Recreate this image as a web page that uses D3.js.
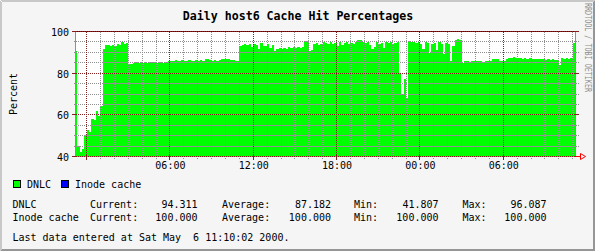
<!DOCTYPE html>
<html>
<head>
<meta charset="utf-8">
<script src="https://cdn.jsdelivr.net/npm/d3@7"></script>
<style>
  body { margin: 0; background: #f5f5f5; }
  svg text { font-family: "DejaVu Sans Mono", monospace; white-space: pre; }
  svg line, svg rect { shape-rendering: crispEdges; }
</style>
</head>
<body>
<div id="chart"></div>
<script>
// time range of the graph, 10 minute steps
var startTime = new Date(2000, 4, 4, 23, 10);
var endTime = new Date(2000, 4, 6, 11, 10);
var stepMinutes = 10;

// DNLC hit percentage, one value per 10 minutes
var dnlc = [
  90.5, 45.0, 42.0, 43.5, 50.0, 52.5, 51.5, 58.0, 57.2, 61.5, 59.0, 64.0,
  91.5, 93.2, 93.5, 93.0, 93.5, 92.8, 94.0, 93.5, 94.5, 93.8, 94.3, 84.0,
  84.2, 84.7, 85.0, 84.8, 84.9, 84.6, 85.1, 84.8, 85.0, 85.2, 84.9, 84.7,
  85.0, 85.3, 84.8, 85.1, 85.7, 85.8, 85.6, 85.9, 85.8, 85.7, 86.0, 85.8,
  85.6, 85.9, 85.8, 85.7, 86.0, 85.8, 85.9, 85.8, 86.4, 86.5, 86.3, 85.6,
  85.9, 85.7, 86.3, 86.5, 86.6, 86.4, 86.5, 86.3, 86.2, 85.8, 85.5, 93.0,
  93.5, 94.0, 93.2, 93.8, 92.5, 94.0, 93.5, 91.5, 94.2, 93.0, 92.8, 94.0,
  92.0, 93.5, 90.3, 91.5, 92.0, 91.2, 92.0, 91.5, 92.5, 92.0, 92.3, 92.0,
  92.2, 91.8, 92.5, 95.0, 95.2, 90.5, 90.8, 93.8, 94.2, 93.5, 94.0, 94.5,
  94.3, 93.8, 94.5, 94.0, 94.3, 92.8, 94.5, 93.5, 94.2, 94.6, 93.8, 94.3,
  94.0, 94.5, 95.9, 95.5, 94.8, 94.2, 94.5, 93.5, 91.6, 92.5, 94.6, 94.0,
  94.3, 92.0, 94.5, 94.2, 94.6, 94.0, 94.3, 94.5, 80.0, 70.0, 77.0, 68.0,
  95.0, 94.5, 94.8, 94.2, 94.6, 94.0, 91.6, 94.5, 94.2, 89.4, 94.0, 94.3,
  91.0, 94.5, 94.0, 89.0, 94.2, 94.0, 85.5, 93.0, 95.5, 96.1, 95.5, 84.6,
  85.4, 85.5, 85.3, 85.6, 85.5, 85.4, 85.6, 85.5, 85.3, 85.5, 85.6, 85.4,
  86.8, 86.7, 86.8, 85.6, 85.5, 85.7, 86.5, 87.2, 87.0, 87.3, 87.1, 87.0,
  87.2, 86.8, 87.0, 86.6, 86.9, 86.7, 86.5, 86.8, 86.6, 86.4, 86.5, 86.3,
  86.5, 86.2, 86.4, 86.0, 86.3, 83.8, 87.0, 86.8, 87.0, 86.5, 87.2, 94.3
];
// Inode cache hit percentage (flat)
var inode = [100, 100];

var yMajor = [40, 60, 80, 100];
var yMinor = [45, 50, 55, 65, 70, 75, 85, 90, 95];
var xLabels = ["06:00", "12:00", "18:00", "00:00", "06:00"];

var legendNames = ["DNLC", "Inode cache"];
var legendColors = ["#00ff00", "#0000ff"];
var statCurrent = ["94.311", "100.000"];
var statAverage = ["87.182", "100.000"];
var statMin = ["41.807", "100.000"];
var statMax = ["96.087", "100.000"];

var W = 595, H = 251;
var svg = d3.select("#chart").append("svg")
    .attr("width", W)
    .attr("height", H);

var x = d3.scaleTime().domain([startTime, endTime]).range([75, 575]);
var y = d3.scaleLinear().domain([40, 100]).range([156.5, 31.5]);
var pix = function(v){ return Math.floor(v); };

// dotted patterns for the grid (1 on, 1 off)
var defs = svg.append("defs");
function dotPattern(id, color, horiz){
  var p = defs.append("pattern").attr("id", id).attr("patternUnits", "userSpaceOnUse")
      .attr("width", horiz ? 2 : 1).attr("height", horiz ? 1 : 2);
  p.append("rect").attr("width", 1).attr("height", 1).attr("fill", color);
}
dotPattern("minorH", "#8f8f8f", true);
dotPattern("minorV", "#8f8f8f", false);
dotPattern("majorH", "#821e1e", true);
dotPattern("majorV", "#821e1e", false);

// background + 3d border
svg.append("rect").attr("width", W).attr("height", H).attr("fill", "#f5f5f5");
var shade = [[0.5, 0.5, W - 0.5, 0.5, "#c8c8c8"], [1.5, 1.5, W - 1.5, 1.5, "#c8c8c8"],
             [0.5, 0.5, 0.5, H - 0.5, "#c8c8c8"], [1.5, 1.5, 1.5, H - 1.5, "#c8c8c8"],
             [W - 0.5, 0.5, W - 0.5, H - 0.5, "#969696"], [W - 1.5, 1.5, W - 1.5, H - 1.5, "#969696"],
             [0.5, H - 0.5, W - 0.5, H - 0.5, "#969696"], [1.5, H - 1.5, W - 1.5, H - 1.5, "#969696"]];
svg.selectAll(".shade").data(shade).enter().append("line")
    .attr("class", "shade")
    .attr("x1", function(d){return d[0];}).attr("y1", function(d){return d[1];})
    .attr("x2", function(d){return d[2];}).attr("y2", function(d){return d[3];})
    .attr("stroke", function(d){return d[4];});

// canvas
svg.append("rect").attr("x", 75).attr("y", 31).attr("width", 501).attr("height", 126).attr("fill", "#ffffff");

// DNLC area (stepped, like rrdtool columns)
var pts = dnlc.map(function(v, i){ return {t: new Date(startTime.getTime() + i * stepMinutes * 60000), v: v}; });
pts.push({t: endTime, v: dnlc[dnlc.length - 1]});
var area = d3.area()
    .curve(d3.curveStepAfter)
    .x(function(d){ return Math.round(x(d.t)); })
    .y0(157)
    .y1(function(d){ return Math.round(y(d.v) - 0.5); });
svg.append("path").datum(pts).attr("d", area).attr("fill", "#00ff00")
    .attr("shape-rendering", "crispEdges");

// grid
var hours = x.ticks(d3.timeHour.every(1));
var majorHours = hours.filter(function(d){ return d.getHours() % 6 === 0; });
var minorHours = hours.filter(function(d){ return d.getHours() % 6 !== 0; });

svg.selectAll(".vminor").data(minorHours).enter().append("rect")
    .attr("class", "vminor")
    .attr("x", function(d){return pix(x(d));}).attr("width", 1)
    .attr("y", 31).attr("height", 128)
    .attr("fill", "url(#minorV)");
svg.selectAll(".hminor").data(yMinor).enter().append("rect")
    .attr("class", "hminor")
    .attr("x", 73).attr("width", 506)
    .attr("y", function(d){return pix(y(d));}).attr("height", 1)
    .attr("fill", "url(#minorH)");

// frame
svg.append("line").attr("x1", 75.5).attr("x2", 75.5).attr("y1", 31).attr("y2", 157).attr("stroke", "#8f8f8f");
svg.append("line").attr("x1", 575.5).attr("x2", 575.5).attr("y1", 31).attr("y2", 157).attr("stroke", "#8f8f8f");
svg.append("line").attr("x1", 72).attr("x2", 580).attr("y1", 156.5).attr("y2", 156.5).attr("stroke", "#8f8f8f");

// inode cache line
svg.append("line")
    .attr("x1", x(startTime)).attr("x2", x(endTime) + 1)
    .attr("y1", pix(y(inode[0])) + 0.5).attr("y2", pix(y(inode[1])) + 0.5)
    .attr("stroke", "#0000ff");

// major grid
svg.selectAll(".vmajor").data(majorHours).enter().append("rect")
    .attr("class", "vmajor")
    .attr("x", function(d){return pix(x(d));}).attr("width", 1)
    .attr("y", 31).attr("height", 126)
    .attr("fill", "url(#majorV)");
svg.selectAll(".hmajor").data(yMajor).enter().append("rect")
    .attr("class", "hmajor")
    .attr("x", 76).attr("width", 499)
    .attr("y", function(d){return pix(y(d));}).attr("height", 1)
    .attr("fill", "url(#majorH)");
svg.selectAll(".htick").data(yMajor).enter().append("rect")
    .attr("class", "htick")
    .attr("x", 72).attr("width", 4)
    .attr("y", function(d){return pix(y(d));}).attr("height", 1)
    .attr("fill", "#821e1e");
svg.selectAll(".htickr").data(yMajor).enter().append("rect")
    .attr("class", "htickr")
    .attr("x", 575).attr("width", 4)
    .attr("y", function(d){return pix(y(d));}).attr("height", 1)
    .attr("fill", "#821e1e");
svg.selectAll(".vtick").data(majorHours).enter().append("rect")
    .attr("class", "vtick")
    .attr("x", function(d){return pix(x(d));}).attr("width", 1)
    .attr("y", 155).attr("height", 5)
    .attr("fill", "#821e1e");

// arrow
svg.append("path")
    .attr("d", "M576,156.5H580.5M580.5,153.5V159.5L585.5,156.5Z")
    .attr("fill", "none").attr("stroke", "#ff0000");

// y labels
svg.selectAll(".ylab").data(yMajor).enter().append("text")
    .attr("class", "ylab")
    .attr("x", 69).attr("y", function(d){return y(d) + 4.5;})
    .attr("text-anchor", "end").attr("font-size", 10)
    .text(function(d){return d;});

// x labels (skip the first major line)
svg.selectAll(".xlab").data(majorHours.slice(1)).enter().append("text")
    .attr("class", "xlab")
    .attr("x", function(d){return x(d) + 0.5;}).attr("y", 168.5)
    .attr("text-anchor", "middle").attr("font-size", 10)
    .text(function(d, i){return xLabels[i];});

// title
svg.append("text").attr("x", 298).attr("y", 19.5)
    .attr("text-anchor", "middle").attr("font-size", 11.6).attr("font-weight", "bold")
    .text("Daily host6 Cache Hit Percentages");

// y axis title
svg.append("text")
    .attr("transform", "translate(16.5,94) rotate(-90)")
    .attr("text-anchor", "middle").attr("font-size", 10)
    .text("Percent");

// side credit
svg.append("text")
    .attr("transform", "translate(585,3) rotate(90)")
    .attr("font-size", 8.5).attr("fill", "#8c8c8c")
    .attr("textLength", 89).attr("lengthAdjust", "spacingAndGlyphs")
    .text("RRDTOOL / TOBI OETIKER");

// legend
var legX = [13, 61];
legendNames.forEach(function(n, i){
  svg.append("rect").attr("x", legX[i]).attr("y", 180).attr("width", 8).attr("height", 8)
      .attr("fill", "#000000");
  svg.append("rect").attr("x", legX[i] + 1).attr("y", 181).attr("width", 6).attr("height", 6)
      .attr("fill", legendColors[i]);
  svg.append("text").attr("x", legX[i] + 14).attr("y", 187.5).attr("font-size", 10).text(n);
});

// stats
var rowY = [208, 220.5];
legendNames.forEach(function(n, i){
  var g = svg.append("g").attr("font-size", 10);
  g.append("text").attr("x", 12.5).attr("y", rowY[i]).text(n);
  g.append("text").attr("x", 90).attr("y", rowY[i]).text("Current:");
  g.append("text").attr("x", 197.5).attr("y", rowY[i]).attr("text-anchor", "end").text(statCurrent[i]);
  g.append("text").attr("x", 222).attr("y", rowY[i]).text("Average:");
  g.append("text").attr("x", 331).attr("y", rowY[i]).attr("text-anchor", "end").text(statAverage[i]);
  g.append("text").attr("x", 354).attr("y", rowY[i]).text("Min:");
  g.append("text").attr("x", 438.5).attr("y", rowY[i]).attr("text-anchor", "end").text(statMin[i]);
  g.append("text").attr("x", 462.5).attr("y", rowY[i]).text("Max:");
  g.append("text").attr("x", 546.5).attr("y", rowY[i]).attr("text-anchor", "end").text(statMax[i]);
});

svg.append("text").attr("x", 12.5).attr("y", 240.5).attr("font-size", 10)
    .text("Last data entered at Sat May  6 11:10:02 2000.");
</script>
</body>
</html>
